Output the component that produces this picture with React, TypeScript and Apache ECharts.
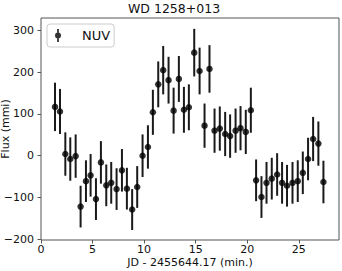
import React, { useEffect, useRef } from "react";
import * as echarts from "echarts";

const times = [1.36, 1.84, 2.36, 2.84, 3.36, 3.84, 4.36, 4.81, 5.33, 5.81, 6.33, 6.81, 7.33, 7.85, 8.33, 8.84, 9.33, 9.85, 10.37, 10.85, 11.37, 11.85, 12.37, 12.86, 13.37, 13.86, 14.34, 14.86, 15.38, 15.86, 16.34, 16.83, 17.34, 17.86, 18.34, 18.87, 19.35, 19.86, 20.35, 20.86, 21.38, 21.87, 22.38, 22.9, 23.38, 23.86, 24.39, 24.9, 25.39, 25.9, 26.39, 26.9, 27.39];
const flux = [117, 106, 4, -8, -1, -122, -61, -47, -104, -16, -71, -65, -80, -35, -79, -129, -75, 0, 21, 104, 171, 205, 181, 108, 184, 110, 116, 247, 203, 72, 208, 60, 65, 52, 47, 60, 66, 57, 109, -59, -99, -65, -55, -45, -65, -72, -65, -61, -41, -8, 40, 29, -63];
const errors = [58, 54, 52, 52, 52, 50, 50, 51, 50, 51, 50, 50, 50, 51, 50, 49, 50, 51, 52, 54, 55, 58, 56, 55, 55, 55, 55, 57, 56, 53, 57, 53, 53, 53, 52, 53, 53, 53, 54, 50, 50, 50, 50, 51, 50, 50, 50, 50, 51, 51, 53, 53, 51];
const xTicks = [0, 5, 10, 15, 20, 25];
const yTicks = [-200, -100, 0, 100, 200, 300];

const FONT = "DejaVu Sans";
const TXT = "#111";
const FRAME = "#555";
const legendIcon = "path://M9.1 0h1.8v13h-1.8z M7 6.5a3 3 0 1 1 6 0a3 3 0 1 1 -6 0z";

export default function App() {
  const ref = useRef<HTMLDivElement>(null);
  useEffect(() => {
    if (!ref.current) return;
    const chart = echarts.init(ref.current, undefined, { renderer: "svg" });
    const fmt = (v: number) => (v < 0 ? "\u2212" + Math.abs(v) : String(v));
    chart.setOption({
      animation: false,
      backgroundColor: "#fff",
      textStyle: { fontFamily: FONT, color: TXT },
      title: {
        text: "WD 1258+013",
        left: 128,
        top: 2,
        padding: 0,
        textStyle: { fontFamily: FONT, fontSize: 12.5, fontWeight: "normal", color: TXT },
      },
      legend: {
        left: 47,
        top: 24,
        orient: "vertical",
        padding: [5, 4, 5, 8],
        itemWidth: 20,
        itemHeight: 13,
        borderColor: "#ccc",
        borderWidth: 1,
        borderRadius: 3,
        backgroundColor: "rgba(255,255,255,0.8)",
        selectedMode: false,
        data: [{ name: "NUV", icon: legendIcon }],
        textStyle: { fontFamily: FONT, fontSize: 13, color: TXT, padding: [0, 0, 0, 9] },
      },
      grid: {
        left: 41,
        right: 3,
        top: 18,
        bottom: 31,
        outerBoundsMode: "none",
        containLabel: false,
        show: true,
        borderColor: FRAME,
        borderWidth: 1,
        backgroundColor: "transparent",
      },
      xAxis: {
        type: "value",
        min: 0,
        max: 28.9,
        name: "JD - 2455644.17 (min.)",
        nameLocation: "middle",
        nameGap: 16,
        nameMoveOverlap: false,
        nameTextStyle: { fontFamily: FONT, fontSize: 11, lineHeight: 12, color: TXT },
        axisLine: { show: false, onZero: false },
        axisTick: { show: true, inside: false, length: 3.5, customValues: xTicks, lineStyle: { color: FRAME } },
        axisLabel: { customValues: xTicks, margin: 4, fontFamily: FONT, fontSize: 11, lineHeight: 11, color: TXT, formatter: fmt },
        splitLine: { show: false },
      },
      yAxis: {
        type: "value",
        min: -202,
        max: 330,
        name: "Flux (mmi)",
        nameLocation: "middle",
        nameGap: 30,
        nameMoveOverlap: false,
        nameTextStyle: { fontFamily: FONT, fontSize: 11, color: TXT },
        axisLine: { show: false, onZero: false },
        axisTick: { show: true, inside: false, length: 3.5, customValues: yTicks, lineStyle: { color: FRAME } },
        axisLabel: { customValues: yTicks, margin: 7, fontFamily: FONT, fontSize: 11, color: TXT, formatter: fmt },
        splitLine: { show: false },
      },
      series: [
        {
          name: "errbars",
          type: "custom",
          data: times.map((t, i) => [t, flux[i], errors[i]]),
          encode: { x: 0, y: 1 },
          renderItem: (params: any, api: any) => {
            const x = api.value(0);
            const y = api.value(1);
            const e = api.value(2);
            const p1 = api.coord([x, y - e]);
            const p2 = api.coord([x, y + e]);
            return {
              type: "line",
              shape: { x1: p1[0], y1: p1[1], x2: p2[0], y2: p2[1] },
              style: { stroke: "#1a1a1a", lineWidth: 2 },
            };
          },
          z: 2,
        },
        {
          name: "NUV",
          type: "scatter",
          data: times.map((t, i) => [t, flux[i]]),
          symbol: "circle",
          symbolSize: 6.5,
          itemStyle: { color: "#000" },
          z: 3,
        },
      ],
    });
    return () => chart.dispose();
  }, []);
  return <div ref={ref} style={{ position: "fixed", left: 0, top: 0, width: 342, height: 271 }} />;
}
